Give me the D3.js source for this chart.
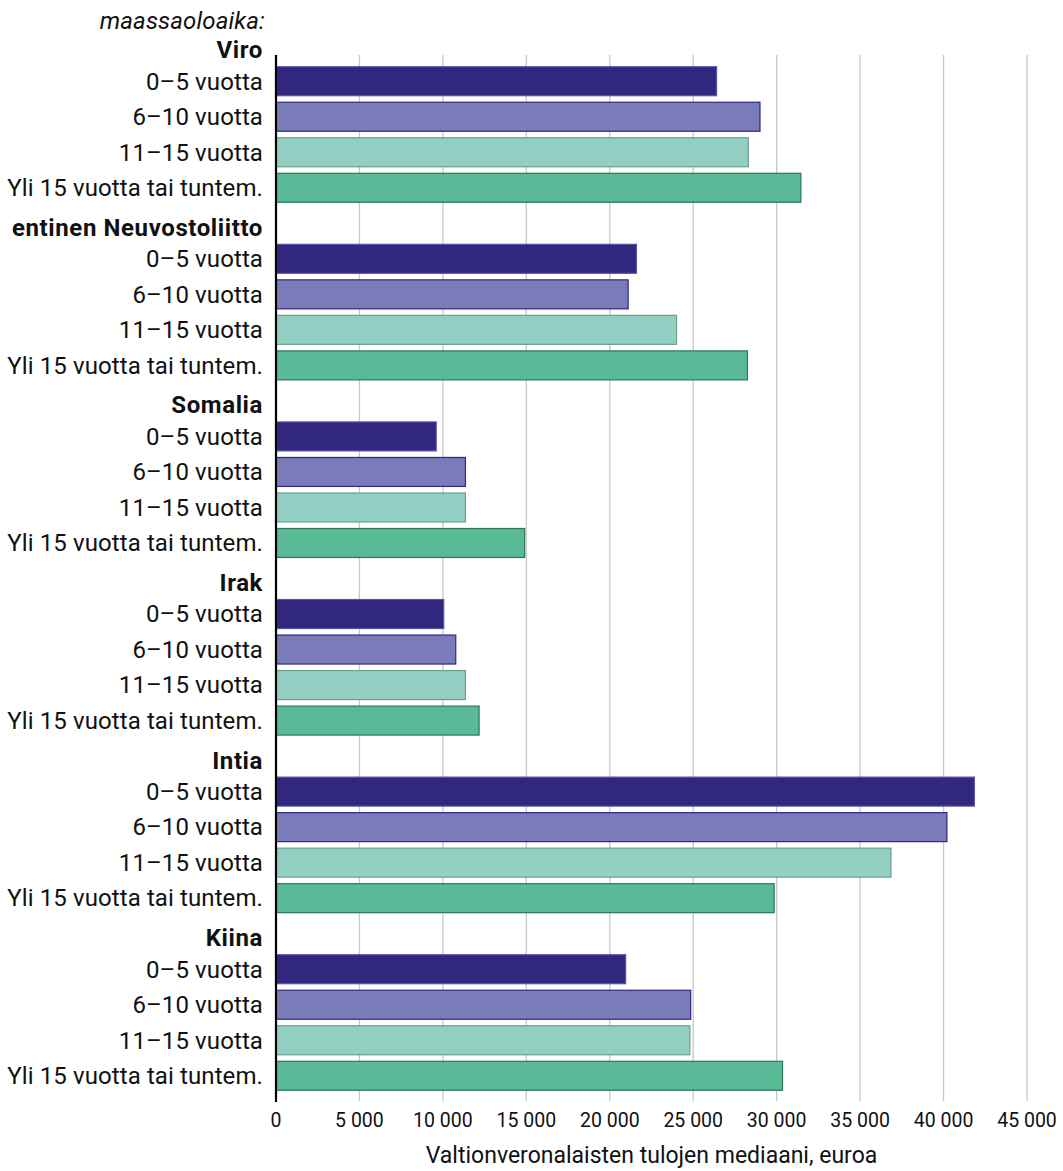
<!DOCTYPE html>
<html><head><meta charset="utf-8">
<script src="https://cdn.jsdelivr.net/npm/d3@7"></script>
<style>
html,body{margin:0;padding:0;background:#fff;}
svg text{font-family:Roboto, "Noto Sans", sans-serif;fill:#111;}
</style></head>
<body>
<svg id="chart" width="1063" height="1171"></svg>
<script>
const countries = ["Viro","entinen Neuvostoliitto","Somalia","Irak","Intia","Kiina"];
const durations = ["0–5 vuotta","6–10 vuotta","11–15 vuotta","Yli 15 vuotta tai tuntem."];
const values = [
  [26400, 29000, 28300, 31450],
  [21600, 21100, 24000, 28250],
  [9600, 11350, 11350, 14900],
  [10050, 10770, 11350, 12170],
  [41850, 40200, 36850, 29850],
  [20950, 24850, 24800, 30350]
];
const xTicks = [0,5000,10000,15000,20000,25000,30000,35000,40000,45000];
const fills = ["#31277f","#7a7cba","#93cfc3","#5ab997"];
const strokes = ["#5a52a3","#2e2880","#6c9e8e","#2f7657"];
const subtitle = "maassaoloaika:";
const xTitle = "Valtionveronalaisten tulojen mediaani, euroa";

const svg = d3.select("#chart");
const x = d3.scaleLinear().domain([0,45000]).range([276,1027]);

const rows = [];
countries.forEach((c,ci)=>{
  rows.push({key:"h"+ci, type:"header", label:c});
  durations.forEach((d,di)=>rows.push({key:ci+"-"+di, type:"bar", label:d, di, value:values[ci][di]}));
});
const step = 35.52;
const y = d3.scaleBand().domain(rows.map(r=>r.key))
  .range([45.7-step/2, 45.7-step/2+rows.length*step])
  .paddingInner(0.184).paddingOuter(0.092);

const gridTop = 55, gridBottom = 1101;
svg.append("g").selectAll("line").data(xTicks.slice(1)).join("line")
  .attr("x1",d=>x(d)).attr("x2",d=>x(d))
  .attr("y1",gridTop).attr("y2",gridBottom)
  .attr("stroke","#c8c8c8").attr("stroke-width",1.3);

const bars = rows.filter(r=>r.type==="bar");
svg.append("g").selectAll("rect").data(bars).join("rect")
  .attr("x",x(0)).attr("y",d=>y(d.key))
  .attr("width",d=>x(d.value)-x(0)).attr("height",y.bandwidth())
  .attr("fill",d=>fills[d.di]).attr("stroke",d=>strokes[d.di]).attr("stroke-width",1.2);

svg.append("line").attr("x1",x(0)).attr("x2",x(0)).attr("y1",gridTop).attr("y2",gridBottom+1)
  .attr("stroke","#000").attr("stroke-width",2.2);

const lab = svg.append("g");
lab.selectAll("text").data(rows).join("text")
  .attr("x",263)
  .attr("y",d=>y(d.key)+y.bandwidth()/2 + (d.type==="header"?12.5:8.3))
  .attr("text-anchor","end")
  .style("font-size","24px")
  .style("letter-spacing",d=>d.type==="header"?"0.6px":"0.1px")
  .style("font-weight",d=>d.type==="header"?"700":"400")
  .text(d=>d.label);

svg.append("text").attr("x",265).attr("y",29).attr("text-anchor","end")
  .style("font-size","24px").style("font-style","italic").style("letter-spacing","0.15px").text(subtitle);

const fmt = d3.formatLocale({decimal:",",thousands:" ",grouping:[3],currency:["","€"]}).format(",d");
svg.append("g").selectAll("text").data(xTicks).join("text")
  .attr("x",d=>x(d)).attr("y",1127).attr("text-anchor","middle")
  .style("font-size","19.5px").text(d=>fmt(d));

svg.append("text").attr("x",(x(0)+x(45000))/2).attr("y",1163).attr("text-anchor","middle")
  .style("font-size","23px").text(xTitle);
</script>
</body></html>
